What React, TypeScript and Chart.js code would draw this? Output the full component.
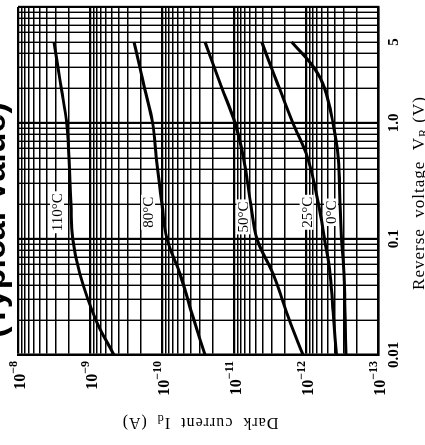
import React, { useEffect, useRef } from 'react';
import { Chart, registerables } from 'chart.js';

Chart.register(...registerables);

// Reverse voltage (V) sample points
const voltage = [0.01, 0.02, 0.05, 0.1, 0.2, 0.5, 1, 2, 3, 5];
// Dark current (A) per temperature
const current110 = [4.64e-10, 8.26e-10, 1.38e-9, 1.73e-9, 1.84e-9, 1.96e-9, 2.11e-9, 2.51e-9, 2.78e-9, 3.16e-9];
const current80 = [2.53e-11, 3.6e-11, 5.62e-11, 8.5e-11, 1.0e-10, 1.2e-10, 1.35e-10, 1.75e-10, 2.03e-10, 2.45e-10];
const current50 = [1.1e-12, 1.7e-12, 2.87e-12, 4.8e-12, 5.85e-12, 7.38e-12, 9.7e-12, 1.47e-11, 1.87e-11, 2.53e-11];
const current25 = [3.77e-13, 4.12e-13, 4.64e-13, 5.53e-13, 6.7e-13, 9.5e-13, 1.52e-12, 2.35e-12, 3.03e-12, 4.12e-12];
const current0 = [2.78e-13, 2.86e-13, 2.97e-13, 3.21e-13, 3.37e-13, 3.57e-13, 4.22e-13, 5.53e-13, 7.74e-13, 1.58e-12];

const tempLabels = ['110°C', '80°C', '50°C', '25°C', '0°C'];
const labelVoltage = [0.17, 0.17, 0.155, 0.17, 0.17];
const labelCurrent = [2.87e-9, 1.56e-10, 7.4e-12, 9.8e-13, 4.5e-13];

const voltageTickValues = [0.01, 0.1, 1, 5];
const voltageTickLabels = ['0.01', '0.1', '1.0', '5'];
const currentDecadeExps = [-8, -9, -10, -11, -12, -13];

const titleText = '(Typical Value)';
const xTitleMain = 'Reverse  voltage  V';
const xTitleSub = 'R';
const xTitleEnd = ' (V)';
const yTitleMain = 'Dark  current  I';
const yTitleSub = 'd';
const yTitleEnd = '  (A)';

const SERIF = '"Liberation Serif", "Times New Roman", serif';
const SANS = '"Liberation Sans", Arial, sans-serif';

function logTicks(minExp: number, maxExp: number) {
  const out: number[] = [];
  for (let n = minExp; n < maxExp; n++) {
    for (let m = 1; m <= 9; m++) out.push(parseFloat((m * Math.pow(10, n)).toPrecision(4)));
  }
  out.push(parseFloat(Math.pow(10, maxExp).toPrecision(4)));
  return out;
}
const isDecade = (v: number) => {
  const l = Math.log10(v);
  return Math.abs(l - Math.round(l)) < 1e-6;
};

type Part = { text: string; size: number; bold?: boolean; dy?: number; family?: string };

function drawRich(ctx: CanvasRenderingContext2D, parts: Part[], x: number, y: number, align: 'left' | 'center' | 'right', spacing = 0) {
  ctx.save();
  ctx.textBaseline = 'alphabetic';
  ctx.textAlign = 'left';
  ctx.fillStyle = '#000';
  (ctx as any).letterSpacing = spacing + 'px';
  const fontOf = (p: Part) => `${p.bold ? 'bold ' : ''}${p.size}px ${p.family || SERIF}`;
  const widths = parts.map((p) => {
    ctx.font = fontOf(p);
    return ctx.measureText(p.text).width;
  });
  const total = widths.reduce((a, b) => a + b, 0);
  let cx = align === 'center' ? x - total / 2 : align === 'right' ? x - total : x;
  parts.forEach((p, i) => {
    ctx.font = fontOf(p);
    ctx.fillText(p.text, cx, y + (p.dy || 0));
    cx += widths[i];
  });
  ctx.restore();
}

const textPlugin = {
  id: 'textPlugin',
  beforeDatasetsDraw(chart: any) {
    const ctx: CanvasRenderingContext2D = chart.ctx;
    const xs = chart.scales.x;
    const ys = chart.scales.y;
    ctx.save();
    ctx.font = `15px ${SERIF}`;
    tempLabels.forEach((t, i) => {
      const px = xs.getPixelForValue(labelVoltage[i]);
      const py = ys.getPixelForValue(labelCurrent[i]);
      const w = ctx.measureText(t).width;
      ctx.fillStyle = '#fff';
      ctx.fillRect(px - w / 2 - 2, py - 7, w + 4, 14);
      ctx.fillStyle = '#000';
      ctx.textAlign = 'center';
      ctx.textBaseline = 'alphabetic';
      ctx.fillText(t, px, py + 5);
    });
    ctx.restore();
  },
  afterDraw(chart: any) {
    const ctx: CanvasRenderingContext2D = chart.ctx;
    const ys = chart.scales.y;
    // Y tick labels with superscripts
    currentDecadeExps.forEach((e) => {
      const py = ys.getPixelForValue(Math.pow(10, e));
      drawRich(ctx, [
        { text: '10', size: 16, bold: true, dy: 7 },
        { text: '\u2212' + Math.abs(e), size: 12, bold: true, dy: -1 },
      ], 84, py, 'right');
    });
    // Chart title (partly cut off at the edge)
    drawRich(ctx, [{ text: titleText, size: 34, bold: true, family: SANS }], 225, 22, 'center');
    // X axis title
    drawRich(ctx, [
      { text: xTitleMain, size: 17 },
      { text: xTitleSub, size: 12, dy: 3 },
      { text: xTitleEnd, size: 17 },
    ], 252, 441, 'center', 1);
    // Y axis title (rotated)
    ctx.save();
    ctx.translate(21, 217);
    ctx.rotate(-Math.PI / 2);
    drawRich(ctx, [
      { text: yTitleMain, size: 16 },
      { text: yTitleSub, size: 12, dy: 3 },
      { text: yTitleEnd, size: 16 },
    ], 0, 6, 'center', 1);
    ctx.restore();
  },
};

const gridWidth = (c: any) => (c.tick && isDecade(c.tick.value) ? 2.2 : 1.4);

export default function App() {
  const ref = useRef<HTMLCanvasElement | null>(null);
  useEffect(() => {
    if (!ref.current) return;
    const series = [current110, current80, current50, current25, current0];
    const chart = new Chart(ref.current, {
      type: 'line',
      data: {
        datasets: series.map((s, k) => ({
          label: tempLabels[k],
          data: voltage.map((v, i) => ({ x: v, y: s[i] })),
          borderColor: '#000',
          borderWidth: 3,
          pointRadius: 0,
          fill: false,
          tension: 0.4,
        })),
      },
      options: {
        animation: false,
        responsive: false,
        layout: { padding: { top: 35, right: 2, left: 0, bottom: 0 } },
        plugins: { legend: { display: false }, title: { display: false }, tooltip: { enabled: false } },
        scales: {
          x: {
            type: 'logarithmic',
            min: 0.01,
            max: 10,
            afterBuildTicks: (s: any) => {
              s.ticks = logTicks(-2, 1).map((v) => ({ value: v }));
            },
            afterFit: (s: any) => {
              s.height = 55;
            },
            grid: { color: '#000', lineWidth: gridWidth, drawTicks: false },
            border: { display: true, color: '#000', width: 2.4 },
            ticks: {
              autoSkip: false,
              maxRotation: 0,
              minRotation: 0,
              padding: 7,
              color: '#000',
              font: { family: SERIF, size: 15, weight: 'bold' },
              callback: (val: any) => {
                const v = Number(val);
                const idx = voltageTickValues.findIndex((t) => Math.abs(t - v) / t < 1e-6);
                return idx >= 0 ? voltageTickLabels[idx] : '';
              },
            },
          },
          y: {
            type: 'logarithmic',
            min: 1e-13,
            max: 1e-8,
            afterBuildTicks: (s: any) => {
              s.ticks = logTicks(-13, -8).map((v) => ({ value: v }));
            },
            afterFit: (s: any) => {
              s.width = 90;
            },
            grid: { color: '#000', lineWidth: gridWidth, drawTicks: false },
            border: { display: true, color: '#000', width: 2.4 },
            ticks: { display: false },
          },
        },
      } as any,
      plugins: [textPlugin],
    });
    return () => chart.destroy();
  }, []);

  return (
    <div style={{ position: 'fixed', left: 0, top: 0, width: 425, height: 445, overflow: 'hidden', background: '#fff' }}>
      <div
        style={{
          position: 'absolute',
          left: 0,
          top: 0,
          width: 445,
          height: 450,
          transformOrigin: '0 0',
          transform: 'translate(-17px, 445px) rotate(-90deg)',
        }}
      >
        <canvas ref={ref} width={445} height={450} style={{ width: 445, height: 450, display: 'block' }} />
      </div>
    </div>
  );
}
